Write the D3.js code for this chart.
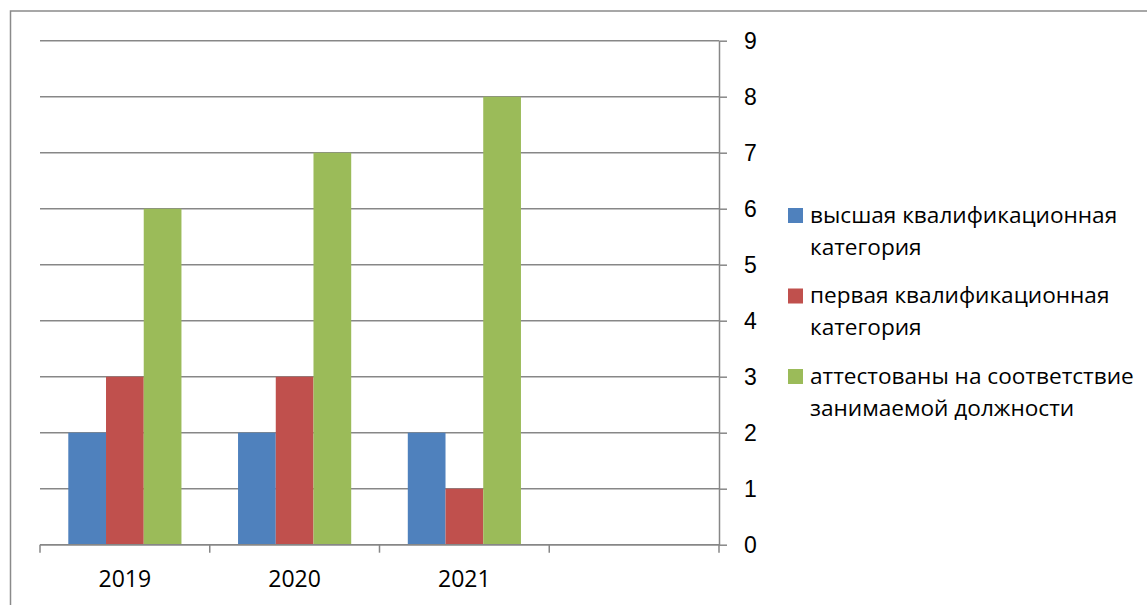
<!DOCTYPE html>
<html>
<head>
<meta charset="utf-8">
<script src="https://cdn.jsdelivr.net/npm/d3@7"></script>
<style>
	html, body { margin: 0; padding: 0; background: #fff; }
	svg { display: block; font-family: "Open Sans", "Noto Sans", sans-serif; }
	.grid line { stroke: #878787; stroke-width: 1.5; }
	.yAxis path, .yAxis line, .xAxis line { stroke: #878787; stroke-width: 1.5; }
	.yAxis text, .xAxis text { fill: #000; font-size: 23px; }
	.legend text { fill: #000; font-size: 22.6px; }
</style>
</head>
<body>
<div id="chart"></div>
<script>
const categories = ['2019', '2020', '2021', ''];
const seriesKeys = ['field1', 'field2', 'field3'];
const seriesNames = [
	'высшая квалификационная\nкатегория',
	'первая квалификационная\nкатегория',
	'аттестованы на соответствие\nзанимаемой должности'
];
const seriesColors = ['#4F81BD', '#C0504D', '#9BBB59'];
const field1 = [2, 2, 2, null];
const field2 = [3, 3, 1, null];
const field3 = [6, 7, 8, null];
const yTicks = [0, 1, 2, 3, 4, 5, 6, 7, 8, 9];

const options = {
	w: 1147,
	h: 605,
	left: 40,
	right: 719,
	top: 40.7,
	bottom: 544.7,
	tickLen: 8,
	groupPadding: 0.75
};

const data = categories.map((c, i) => ({
	year: c,
	field1: field1[i],
	field2: field2[i],
	field3: field3[i]
}));

const svg = d3.select('#chart')
	.append('svg')
	.attr('width', options.w)
	.attr('height', options.h)
	.attr('viewBox', `0 0 ${options.w} ${options.h}`);

// outer frame (runs off the right and bottom edges)
svg.append('rect')
	.attr('x', 10.5)
	.attr('y', 11)
	.attr('width', 1300)
	.attr('height', 800)
	.attr('fill', 'none')
	.attr('stroke', '#8a8a8a')
	.attr('stroke-width', 1.5);

const xScale0 = d3.scaleBand().domain(categories).range([options.left, options.right]).padding(0);
const xScale1 = d3.scaleBand().domain(seriesKeys).range([0, xScale0.bandwidth()])
	.paddingInner(0).paddingOuter(options.groupPadding);
const yScale = d3.scaleLinear().domain([0, 9]).range([options.bottom, options.top]);

// gridlines
svg.append('g')
	.attr('class', 'grid')
	.selectAll('line')
	.data(yTicks)
	.enter().append('line')
	.attr('x1', options.left)
	.attr('x2', options.right)
	.attr('y1', d => yScale(d))
	.attr('y2', d => yScale(d));

// bars
const group = svg.selectAll('.group')
	.data(data)
	.enter().append('g')
	.attr('class', 'group')
	.attr('transform', d => `translate(${xScale0(d.year)},0)`);

seriesKeys.forEach((key, k) => {
	group.filter(d => d[key] != null)
		.append('rect')
		.attr('class', 'bar ' + key)
		.attr('x', xScale1(key))
		.attr('y', d => yScale(d[key]))
		.attr('width', xScale1.bandwidth())
		.attr('height', d => options.bottom - yScale(d[key]))
		.attr('fill', seriesColors[k]);
});

// right value axis
const yAxis = d3.axisRight(yScale).tickValues(yTicks).tickFormat(d3.format('d'))
	.tickSize(options.tickLen).tickSizeOuter(0).tickPadding(17);
svg.append('g')
	.attr('class', 'yAxis')
	.attr('transform', `translate(${options.right},0)`)
	.call(yAxis)
	.selectAll('text')
	.attr('dy', '0.36em');

// bottom category axis: ticks on band edges, labels in the middle
const xAxis = svg.append('g').attr('class', 'xAxis');
const edges = categories.map(c => xScale0(c)).concat([options.right]);
xAxis.append('line')
	.attr('x1', options.left)
	.attr('x2', options.right)
	.attr('y1', options.bottom)
	.attr('y2', options.bottom);
xAxis.selectAll('.edge')
	.data(edges)
	.enter().append('line')
	.attr('class', 'edge')
	.attr('x1', d => d)
	.attr('x2', d => d)
	.attr('y1', options.bottom)
	.attr('y2', options.bottom + options.tickLen);
xAxis.selectAll('.label')
	.data(categories)
	.enter().append('text')
	.attr('class', 'label')
	.attr('x', d => xScale0(d) + xScale0.bandwidth() / 2)
	.attr('y', 587)
	.attr('text-anchor', 'middle')
	.text(d => d);

// legend
const legend = svg.append('g')
	.attr('class', 'legend')
	.attr('transform', 'translate(788,0)');
const item = legend.selectAll('.item')
	.data(seriesNames)
	.enter().append('g')
	.attr('class', 'item')
	.attr('transform', (d, i) => `translate(0,${222.5 + i * 80.5})`);
item.append('rect')
	.attr('x', 0)
	.attr('y', -14.5)
	.attr('width', 15)
	.attr('height', 15)
	.attr('fill', (d, i) => seriesColors[i]);
item.append('text')
	.attr('x', 22)
	.selectAll('tspan')
	.data(d => d.split('\n'))
	.enter().append('tspan')
	.attr('x', 22)
	.attr('y', (d, i) => i * 32)
	.text(d => d);
</script>
</body>
</html>
